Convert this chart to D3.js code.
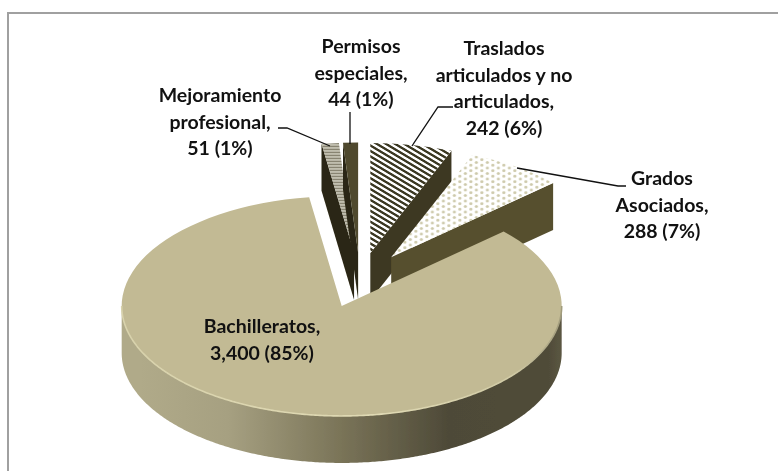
<!DOCTYPE html>
<html>
<head>
<meta charset="utf-8">
<script src="https://cdn.jsdelivr.net/npm/d3@7"></script>
<style>
  html, body { margin: 0; padding: 0; background: #fff; }
  svg { display: block; }
  text { font-family: Lato, "Open Sans", sans-serif; font-weight: 700; font-size: 19.5px; fill: #111; }
</style>
</head>
<body>
<div id="chart"></div>
<script>
// values
const categories = ["Bachilleratos", "Mejoramiento profesional", "Permisos especiales", "Traslados articulados y no articulados", "Grados Asociados"];
const values = [3400, 51, 44, 242, 288];
const labelLines = [
    ["Bachilleratos,", "3,400 (85%)"],
    ["Mejoramiento", "profesional,", "51 (1%)"],
    ["Permisos", "especiales,", "44 (1%)"],
    ["Traslados", "articulados y no", "articulados,", "242 (6%)"],
    ["Grados", "Asociados,", "288 (7%)"]
];

const width = 778;
const height = 471;

// pie geometry
const cx = 360, cy = 280;
const radius = 220;
const squash = 0.5;      // tilt of the pie
const depth = 47;
const explode = 55;
const firstAngle = 47.4 * Math.PI / 180;

// where each label sits, same order as categories
const labelPos = [[262, 333], [220, 102], [361, 53], [504, 55], [662, 185]];
const lineHeight = 26.5;

// leader lines, index into categories
const leaders = [
    { i: 1, pts: [[278, 128], [287, 128], [330, 146]] },
    { i: 2, pts: [[350, 112], [350, 144]] },
    { i: 3, pts: [[453, 107], [438, 107], [412, 146]] },
    { i: 4, pts: [[517, 168], [618, 186], [626, 186]] }
];

const svg = d3.select("#chart")
    .append("svg")
    .attr("width", width)
    .attr("height", height);

const defs = svg.append("defs");

// rim shading, light on the left going dark to the right
const rimGrad = defs.append("linearGradient")
    .attr("id", "rim")
    .attr("gradientUnits", "userSpaceOnUse")
    .attr("x1", cx - radius).attr("x2", cx + radius).attr("y1", 0).attr("y2", 0);
[[0, "#b0aa89"], [0.2, "#a6a081"], [0.45, "#7b7559"], [0.7, "#4e4a38"], [0.93, "#504c39"], [1, "#6c6750"]]
    .forEach(s => rimGrad.append("stop").attr("offset", s[0]).attr("stop-color", s[1]));

// highlight along the front edge of the top face
const edgeGrad = defs.append("linearGradient")
    .attr("id", "edge")
    .attr("gradientUnits", "userSpaceOnUse")
    .attr("x1", cx - radius).attr("x2", cx + radius).attr("y1", 0).attr("y2", 0);
[[0, "#d8d2ac"], [0.55, "#e0dab4"], [0.85, "#cfc9a4"], [1, "#8f8a6c"]]
    .forEach(s => edgeGrad.append("stop").attr("offset", s[0]).attr("stop-color", s[1]));

// hatch for Traslados
const hatch = defs.append("pattern")
    .attr("id", "hatch")
    .attr("patternUnits", "userSpaceOnUse")
    .attr("width", 7).attr("height", 7)
    .attr("patternTransform", "rotate(50)");
hatch.append("rect").attr("width", 7).attr("height", 7).attr("fill", "#fff");
hatch.append("rect").attr("width", 7).attr("height", 3.5).attr("fill", "#3b3722");

// fine horizontal lines for Mejoramiento
const lines = defs.append("pattern")
    .attr("id", "lines")
    .attr("patternUnits", "userSpaceOnUse")
    .attr("width", 3).attr("height", 3);
lines.append("rect").attr("width", 3).attr("height", 3).attr("fill", "#d8d6c8");
lines.append("rect").attr("width", 3).attr("height", 1.2).attr("fill", "#6f6b58");

// dots for Grados
const dots = defs.append("pattern")
    .attr("id", "dots")
    .attr("patternUnits", "userSpaceOnUse")
    .attr("width", 11).attr("height", 11);
dots.append("rect").attr("width", 11).attr("height", 11).attr("fill", "#fff");
dots.append("ellipse").attr("cx", 2.7).attr("cy", 2.7).attr("rx", 1.6).attr("ry", 2.8).attr("fill", "#cdc9aa");
dots.append("ellipse").attr("cx", 8.2).attr("cy", 8.2).attr("rx", 1.6).attr("ry", 2.8).attr("fill", "#cdc9aa");

defs.append("filter").attr("id", "soft")
    .append("feGaussianBlur").attr("stdDeviation", 0.5);

// frame, only the top and left edges show
svg.append("path")
    .attr("d", d3.line()([[8, height], [8, 13], [width, 13]]))
    .attr("fill", "none")
    .attr("stroke", "#a0a0a0")
    .attr("stroke-width", 2);

const pie = d3.pie()
    .sort(null)
    .startAngle(firstAngle)
    .endAngle(firstAngle + 2 * Math.PI);

const slices = pie(values).map((s, i) => {
    const mid = (s.startAngle + s.endAngle) / 2;
    return {
        ...s,
        i: i,
        x: cx + explode * Math.sin(mid),
        y: cy - explode * Math.cos(mid) * squash
    };
});

const arc = d3.arc().innerRadius(0).outerRadius(radius);

// point on the slice's rim at a given angle
const rimPoint = (s, a) => [
    s.x + radius * Math.sin(a),
    s.y - radius * Math.cos(a) * squash
];

// face cut along one straight edge of a slice
function cutFace(s, a) {
    const p = rimPoint(s, a);
    return d3.line()([[s.x, s.y], p, [p[0], p[1] + depth], [s.x, s.y + depth]]);
}

// front wall of the slice, only the part of the arc that faces the viewer
function wall(s) {
    const a0 = Math.PI / 2, a1 = 3 * Math.PI / 2;
    const angles = d3.range(a0, a1, 0.01).concat([a1]);
    const top = angles.map(a => rimPoint(s, a));
    const bottom = top.slice().reverse().map(p => [p[0], p[1] + depth]);
    return d3.line()(top.concat(bottom));
}

const topFill = ["#c2ba94", "url(#lines)", "#4f4a2e", "url(#hatch)", "url(#dots)"];
const cutFill = ["#57502f", "#2c2814", "#2c2814", "#3e3820", "#57502f"];

const pieG = svg.append("g").attr("filter", "url(#soft)");

// painter's order: thin wedges at the back first, big slice last
[1, 2, 3, 4, 0].forEach(i => {
    const s = slices[i];
    const g = pieG.append("g").attr("class", "slice");

    if (i === 0) {
        g.append("path").attr("d", wall(s)).attr("fill", "url(#rim)");
    } else if (i === 1 || i === 2) {
        g.append("path").attr("d", cutFace(s, s.startAngle)).attr("fill", cutFill[i]);
    } else {
        g.append("path").attr("d", cutFace(s, s.endAngle)).attr("fill", cutFill[i]);
    }

    g.append("path")
        .attr("d", arc(s))
        .attr("transform", `translate(${s.x},${s.y}) scale(1,${squash})`)
        .attr("fill", topFill[i]);

    if (i === 0) {
        const front = d3.range(Math.PI / 2, 3 * Math.PI / 2, 0.01).map(a => rimPoint(s, a));
        g.append("path")
            .attr("d", d3.line()(front))
            .attr("fill", "none")
            .attr("stroke", "url(#edge)")
            .attr("stroke-width", 1.6);
    }
});

// leader lines
leaders.forEach(l => {
    svg.append("path")
        .attr("d", d3.line()(l.pts))
        .attr("fill", "none")
        .attr("stroke", "#111")
        .attr("stroke-width", 1.3);
});

// labels
categories.forEach((c, i) => {
    const t = svg.append("text")
        .attr("text-anchor", "middle")
        .attr("x", labelPos[i][0])
        .attr("y", labelPos[i][1]);
    labelLines[i].forEach((line, j) => {
        t.append("tspan")
            .attr("x", labelPos[i][0])
            .attr("dy", j === 0 ? 0 : lineHeight)
            .text(line);
    });
});
</script>
</body>
</html>
